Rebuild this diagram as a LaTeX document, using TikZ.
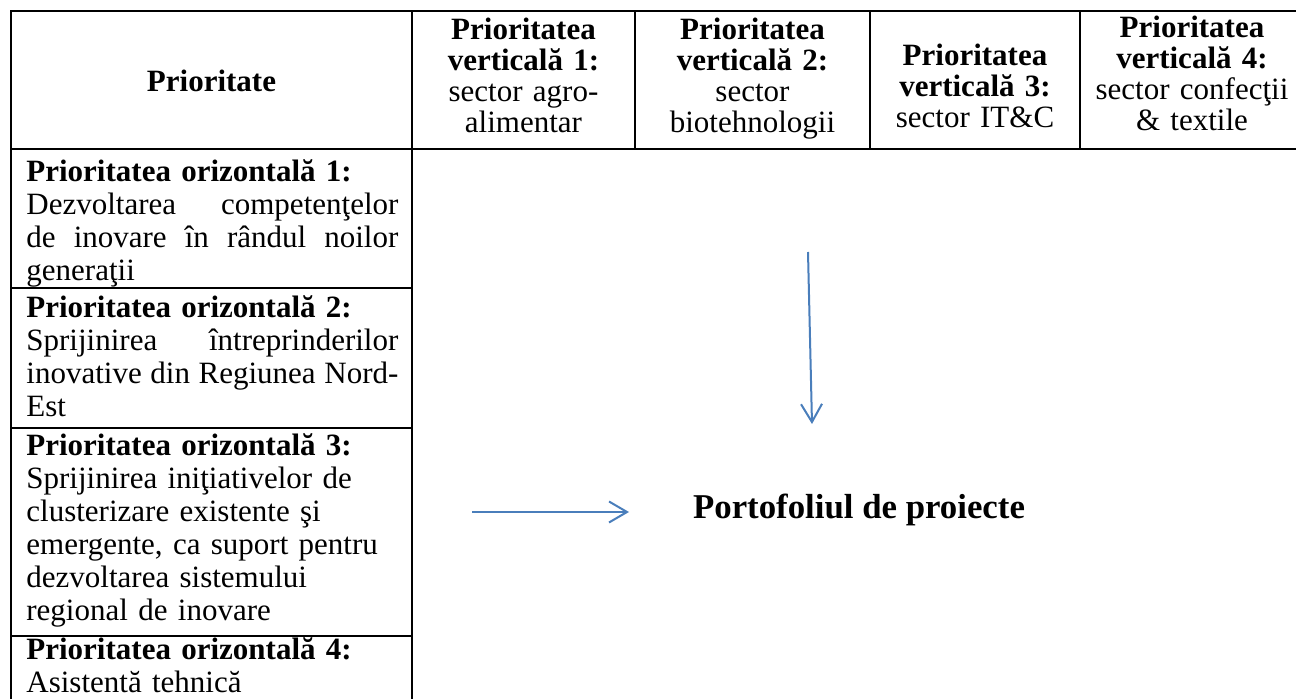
\documentclass[tikz,border=0pt]{standalone}
\usepackage{fontspec}
\setmainfont{Liberation Serif}
\usetikzlibrary{arrows.meta}
\definecolor{arrowblue}{RGB}{74,126,187}

\begin{document}
\begin{tikzpicture}[x=0.5pt, y=-0.5pt,
    grid/.style = {line width=1.3pt, line cap=rect},
    head/.style = {align=center, text width=104pt, inner sep=0pt, anchor=base, font=\fontsize{15.5}{15.5}\selectfont},
    cell/.style = {align=left, text width=186pt, inner sep=0pt, anchor=base west, font=\fontsize{15.5}{16.5}\selectfont},
    arr/.style = {draw=arrowblue, line width=1pt, -{Straight Barb[length=9pt, width=10.5pt]}}]
        \useasboundingbox (0,0) rectangle (1296,699);
        \clip (0,0) rectangle (1296,699);
        \draw[grid] (11,710) -- (11,11) -- (1304,11) -- (1304,149) -- (11,149);
        \draw[grid] (412,11) -- (412,710);
        \draw[grid] (635,11) -- (635,149);
        \draw[grid] (870,11) -- (870,149);
        \draw[grid] (1080,11) -- (1080,149);
        \draw[grid] (11,288) -- (412,288);
        \draw[grid] (11,428) -- (412,428);
        \draw[grid] (11,636) -- (412,636);
        \node[head] (prio) at (211.5,92) {\textbf{Prioritate}};
        \node[head] (v1) at (523.5,40) {\textbf{Prioritatea}\\\textbf{verticală 1:}\\sector agro-\\alimentar};
        \node[head] (v2) at (752.5,40) {\textbf{Prioritatea}\\\textbf{verticală 2:}\\sector\\biotehnologii};
        \node[head] (v3) at (975,66) {\textbf{Prioritatea}\\\textbf{verticală 3:}\\sector IT\&C};
        \node[head] (v4) at (1192,38) {\textbf{Prioritatea}\\\textbf{verticală 4:}\\sector confecţii\\\& textile};
        \node[cell] (h1) at (26,182) {\textbf{Prioritatea orizontală 1:}\\Dezvoltarea\hfill competenţelor\\de\hfill inovare\hfill în\hfill rândul\hfill noilor\\generaţii};
        \node[cell] (h2) at (26,318) {\textbf{Prioritatea orizontală 2:}\\Sprijinirea\hfill întreprinderilor\\inovative\hfill din\hfill Regiunea\hfill Nord-\\Est};
        \node[cell] (h3) at (26,456) {\textbf{Prioritatea orizontală 3:}\\Sprijinirea iniţiativelor de\\clusterizare existente şi\\emergente, ca suport pentru\\dezvoltarea sistemului\\regional de inovare};
        \node[cell] (h4) at (26,660) {\textbf{Prioritatea orizontală 4:}\\Asistentă tehnică};
        \node[anchor=base, inner sep=0pt, font=\fontsize{17.4}{17.4}\selectfont\bfseries] (portofoliu) at (859,519) {Portofoliul de proiecte};
        \coordinate (vtop) at (808,252);
        \coordinate (vbot) at (812,424);
        \coordinate (hstart) at (472,512);
        \coordinate (hend) at (629,512);
        \draw[arr] (vtop) -- (vbot);
        \draw[arr] (hstart) -- (hend);
    \end{tikzpicture}
\end{document}
